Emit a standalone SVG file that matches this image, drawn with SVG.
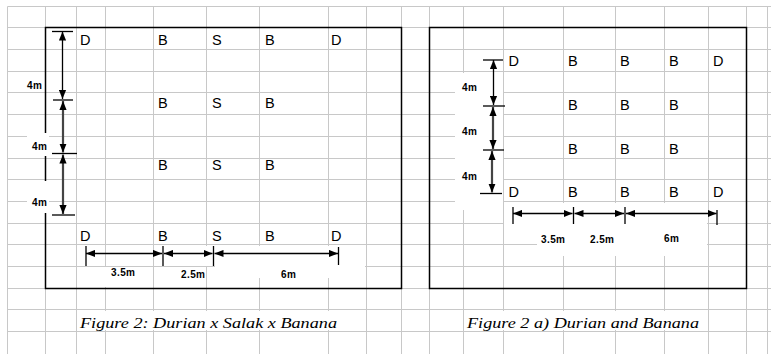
<svg xmlns="http://www.w3.org/2000/svg" width="771" height="354" viewBox="0 0 771 354">
<style>
.grid line{stroke:#c8c8c8;stroke-width:1}
.box{fill:none;stroke:#000;stroke-width:1.5}
.wp{fill:#fff}
.ltr{font-family:"Liberation Sans",Arial,sans-serif;font-size:14.5px;fill:#000}
.dim{font-family:"Liberation Sans",Arial,sans-serif;font-size:10px;font-weight:bold;fill:#000;letter-spacing:0.4px}
.cap{font-family:"Liberation Serif","Times New Roman",serif;font-size:15px;font-style:italic;fill:#000}
.tick{stroke:#000;stroke-width:1.3}
.a1{stroke:#000;stroke-width:1.3;marker-start:url(#ah);marker-end:url(#ah)}
.a2{stroke:#444;stroke-width:2.2;marker-start:url(#ah);marker-end:url(#ah)}
</style>
<defs>
<marker id="ah" viewBox="0 0 10 8" refX="10" refY="4" markerWidth="9" markerHeight="8" markerUnits="userSpaceOnUse" orient="auto-start-reverse">
<path d="M0,0 L10,4 L0,8 z" fill="#000"/>
</marker>
</defs>
<rect width="771" height="354" fill="#fff"/>
<g id="grid" class="grid">
<line x1="7.5" y1="6.5" x2="771" y2="6.5"/>
<line x1="7.5" y1="27.5" x2="771" y2="27.5"/>
<line x1="7.5" y1="49.5" x2="771" y2="49.5"/>
<line x1="7.5" y1="71.5" x2="771" y2="71.5"/>
<line x1="7.5" y1="92.5" x2="771" y2="92.5"/>
<line x1="7.5" y1="114.5" x2="771" y2="114.5"/>
<line x1="7.5" y1="136.5" x2="771" y2="136.5"/>
<line x1="7.5" y1="158.5" x2="771" y2="158.5"/>
<line x1="7.5" y1="179.5" x2="771" y2="179.5"/>
<line x1="7.5" y1="201.5" x2="771" y2="201.5"/>
<line x1="7.5" y1="223.5" x2="771" y2="223.5"/>
<line x1="7.5" y1="244.5" x2="771" y2="244.5"/>
<line x1="7.5" y1="266.5" x2="771" y2="266.5"/>
<line x1="7.5" y1="288.5" x2="771" y2="288.5"/>
<line x1="7.5" y1="309.5" x2="771" y2="309.5"/>
<line x1="7.5" y1="331.5" x2="771" y2="331.5"/>
<line x1="7.5" y1="6.5" x2="7.5" y2="354"/>
<line x1="45.5" y1="6.5" x2="45.5" y2="354"/>
<line x1="76.5" y1="6.5" x2="76.5" y2="354"/>
<line x1="105.5" y1="6.5" x2="105.5" y2="354"/>
<line x1="153.5" y1="6.5" x2="153.5" y2="354"/>
<line x1="206.5" y1="6.5" x2="206.5" y2="354"/>
<line x1="259.5" y1="6.5" x2="259.5" y2="354"/>
<line x1="328.5" y1="6.5" x2="328.5" y2="354"/>
<line x1="366.5" y1="6.5" x2="366.5" y2="354"/>
<line x1="401.5" y1="6.5" x2="401.5" y2="354"/>
<line x1="429.5" y1="6.5" x2="429.5" y2="354"/>
<line x1="463.5" y1="6.5" x2="463.5" y2="354"/>
<line x1="503.5" y1="6.5" x2="503.5" y2="354"/>
<line x1="563.5" y1="6.5" x2="563.5" y2="354"/>
<line x1="615.5" y1="6.5" x2="615.5" y2="354"/>
<line x1="664.5" y1="6.5" x2="664.5" y2="354"/>
<line x1="708.5" y1="6.5" x2="708.5" y2="354"/>
<line x1="746.5" y1="6.5" x2="746.5" y2="354"/>
<line x1="767.5" y1="6.5" x2="767.5" y2="354"/>
</g>
<g id="frames">
<rect class="box" x="45.5" y="27.5" width="356" height="261"/>
<rect class="box" x="429.5" y="27.5" width="317" height="261"/>
</g>
<g id="label-backgrounds">
<rect class="wp" x="27" y="133" width="22" height="23"/>
<rect class="wp" x="27" y="181" width="22" height="32"/>
<rect class="wp" x="160" y="246" width="205" height="20"/>
<rect class="wp" x="215" y="266" width="150" height="12"/>
<rect class="wp" x="78" y="267" width="72" height="20"/>
<rect class="wp" x="176" y="267" width="29" height="20"/>
<rect class="wp" x="455" y="73" width="48" height="137"/>
<rect class="wp" x="504" y="203" width="203" height="41"/>
<rect class="wp" x="537" y="244" width="170" height="12"/>
<rect class="wp" x="78" y="311" width="284" height="19"/>
<rect class="wp" x="464" y="311" width="243" height="19"/>
</g>
<g id="fig-left">
<g id="left-plants" class="ltr">
<text x="80" y="45">D</text><text x="158" y="45">B</text><text x="212" y="45">S</text><text x="265" y="45">B</text><text x="331" y="45">D</text>
<text x="158" y="108">B</text><text x="212" y="108">S</text><text x="265" y="108">B</text>
<text x="158" y="170">B</text><text x="212" y="170">S</text><text x="265" y="170">B</text>
<text x="80" y="240.5">D</text><text x="158" y="240.5">B</text><text x="212" y="240.5">S</text><text x="265" y="240.5">B</text><text x="331" y="240.5">D</text>
</g>
<g id="left-dims">
<line class="tick" x1="52" y1="31.5" x2="73" y2="31.5"/>
<line class="tick" x1="53" y1="100" x2="73" y2="100"/>
<line class="tick" x1="52" y1="153.5" x2="77" y2="153.5"/>
<line class="tick" x1="52" y1="215" x2="75" y2="215"/>
<line class="a1" x1="62.5" y1="31.5" x2="62.5" y2="99"/>
<line class="a2" x1="63" y1="101" x2="63" y2="152.5"/>
<line class="a2" x1="63" y1="154.5" x2="63" y2="214"/>
<line class="tick" x1="86" y1="246" x2="86" y2="266"/>
<line class="tick" x1="163" y1="246" x2="163" y2="266"/>
<line class="tick" x1="213.5" y1="246" x2="213.5" y2="266"/>
<line class="tick" x1="338.5" y1="247" x2="338.5" y2="265"/>
<line class="a1" x1="86" y1="253.5" x2="162" y2="253.5"/>
<line class="a1" x1="164" y1="253.5" x2="212.5" y2="253.5"/>
<line class="a1" x1="214.5" y1="253.5" x2="338" y2="253.5"/>
<text class="dim" x="27" y="88.5">4m</text>
<text class="dim" x="32" y="149.5">4m</text>
<text class="dim" x="32" y="205.5">4m</text>
<text class="dim" x="111" y="276">3.5m</text>
<text class="dim" x="181" y="277.5">2.5m</text>
<text class="dim" x="281" y="277.5">6m</text>
</g>
<text id="caption-left" class="cap" x="80" y="327.5" textLength="257" lengthAdjust="spacingAndGlyphs">Figure 2: Durian x Salak x Banana</text>
</g>
<g id="fig-right">
<g id="right-plants" class="ltr">
<text x="508.5" y="66">D</text><text x="568" y="66">B</text><text x="620" y="66">B</text><text x="669" y="66">B</text><text x="713" y="66">D</text>
<text x="568" y="110">B</text><text x="620" y="110">B</text><text x="669" y="110">B</text>
<text x="568" y="154">B</text><text x="620" y="154">B</text><text x="669" y="154">B</text>
<text x="508.5" y="197">D</text><text x="568" y="197">B</text><text x="620" y="197">B</text><text x="669" y="197">B</text><text x="713" y="197">D</text>
</g>
<g id="right-dims">
<line class="tick" x1="483" y1="60" x2="503" y2="60"/>
<line class="tick" x1="483" y1="106" x2="505" y2="106"/>
<line class="tick" x1="483" y1="150" x2="504" y2="150"/>
<line class="tick" x1="480" y1="193.5" x2="502" y2="193.5"/>
<line class="a1" x1="493.5" y1="60" x2="493.5" y2="105"/>
<line class="a2" x1="493" y1="107" x2="493" y2="149"/>
<line class="a2" x1="492" y1="151" x2="492" y2="192.5"/>
<line class="tick" x1="513" y1="207" x2="513" y2="224"/>
<line class="tick" x1="573.5" y1="207" x2="573.5" y2="224"/>
<line class="tick" x1="625" y1="207" x2="625" y2="224"/>
<line class="tick" x1="717" y1="210" x2="717" y2="225"/>
<line class="a1" x1="513" y1="213.5" x2="572.5" y2="213.5"/>
<line class="a1" x1="574.5" y1="213.5" x2="624" y2="213.5"/>
<line class="a1" x1="626" y1="213.5" x2="716.5" y2="213.5"/>
<text class="dim" x="462" y="91">4m</text>
<text class="dim" x="462" y="135">4m</text>
<text class="dim" x="462" y="180">4m</text>
<text class="dim" x="541" y="242.5">3.5m</text>
<text class="dim" x="590" y="242.5">2.5m</text>
<text class="dim" x="664" y="242">6m</text>
</g>
<text id="caption-right" class="cap" x="467" y="327.5" textLength="232" lengthAdjust="spacingAndGlyphs">Figure 2 a) Durian and Banana</text>
</g>
</svg>
